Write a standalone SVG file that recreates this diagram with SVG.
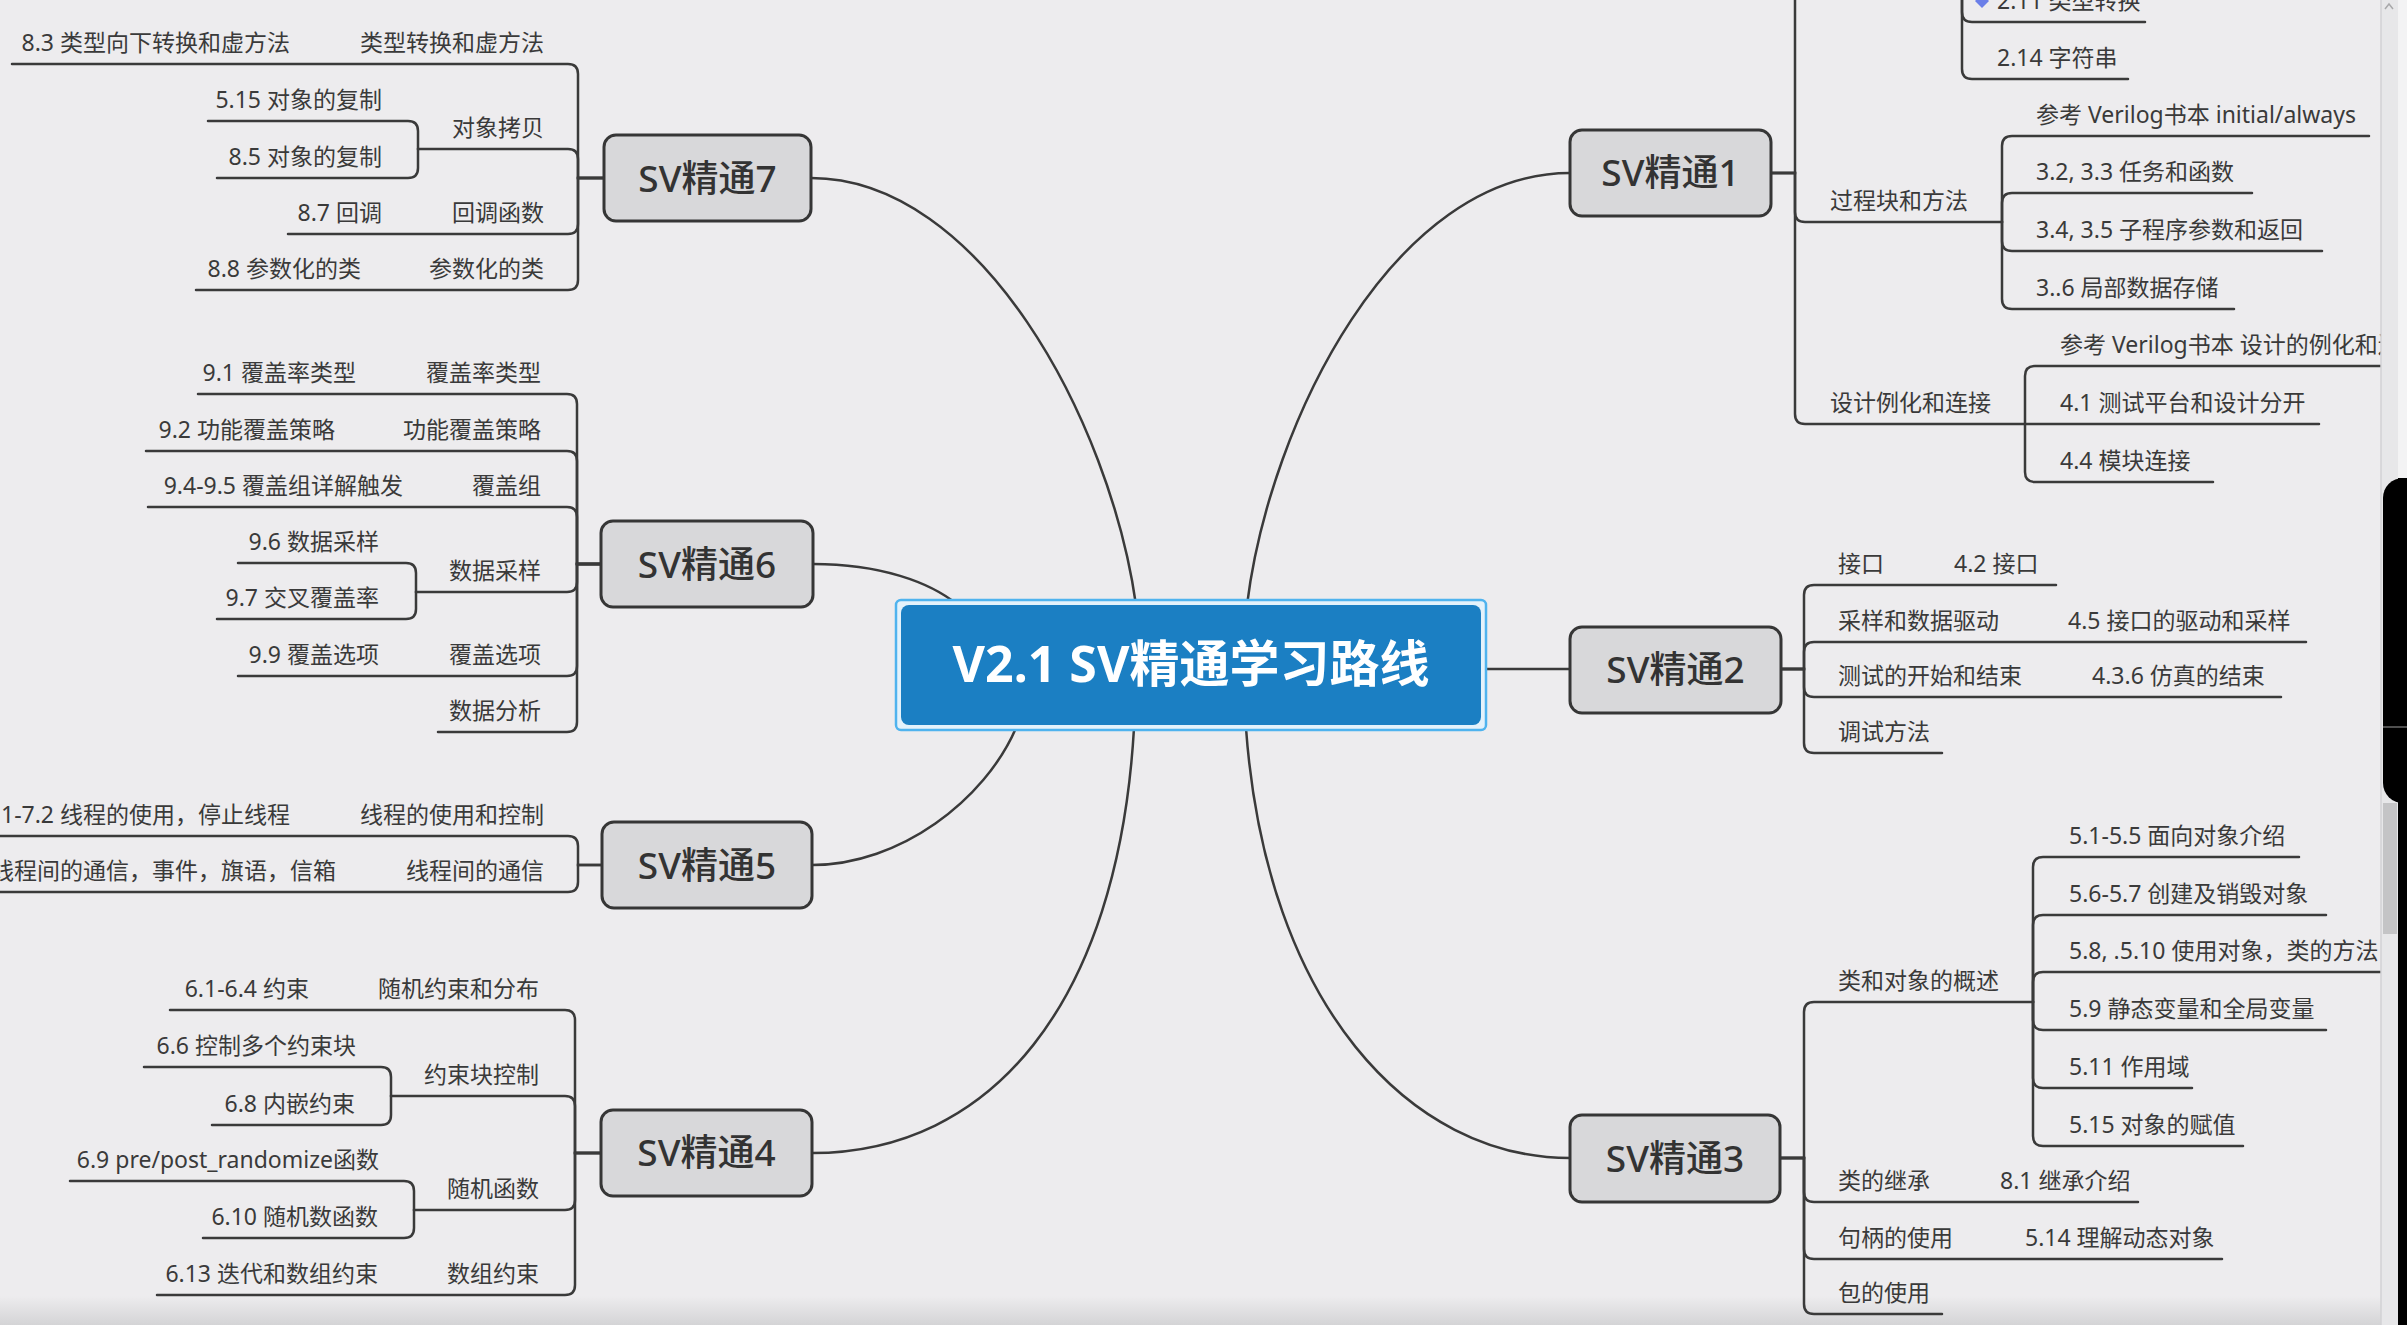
<svg xmlns="http://www.w3.org/2000/svg" width="2407" height="1325" viewBox="0 0 2407 1325">
<defs>
<linearGradient id="btm" x1="0" y1="0" x2="0" y2="1">
<stop offset="0" stop-color="#EDECEE"/>
<stop offset="1" stop-color="#D4D4D6"/>
</linearGradient>
<style>
.t{font-family:"Noto Sans","Noto Sans CJK SC",sans-serif;font-size:23px;fill:#3a3a3a}
.e{text-anchor:end}
.c{fill:none;stroke:#3a3a3a;stroke-width:2.5;stroke-linecap:round}
.mb{fill:#D8D8DA;stroke:#363636;stroke-width:3}
.mt{font-family:"Noto Sans","Noto Sans CJK SC",sans-serif;font-size:37px;font-weight:500;fill:#333;text-anchor:middle}
</style>
</defs>
<rect x="0" y="0" width="2407" height="1325" fill="#EDECEE"/>
<rect x="0" y="1296" width="2407" height="29" fill="url(#btm)"/>

<g id="connectors">
<!-- center to main nodes -->
<path class="c" d="M1136,605 C1110,420 980,178 811,178"/>
<path class="c" d="M1247,605 C1270,420 1395,173 1570,173"/>
<path class="c" d="M958,605 C930,582 880,564 813,564"/>
<path class="c" d="M1016,728 C985,800 900,865 812,865"/>
<path class="c" d="M1134,728 C1118,1005 990,1153 812,1153"/>
<path class="c" d="M1246,728 C1266,1005 1410,1158 1570,1158"/>
<path class="c" d="M1486,669 H1570"/>

<!-- SV7 -->
<path class="c" d="M604,178 H578 V74 Q578,64 568,64 H12"/>
<path class="c" d="M604,178 H578 V159 Q578,149 568,149 H418"/>
<path class="c" d="M418,149 V131 Q418,121 408,121 H208"/>
<path class="c" d="M418,149 V168 Q418,178 408,178 H217"/>
<path class="c" d="M604,178 H578 V224 Q578,234 568,234 H288"/>
<path class="c" d="M604,178 H578 V280 Q578,290 568,290 H196"/>

<!-- SV6 -->
<path class="c" d="M601,564 H577 V404 Q577,394 567,394 H198"/>
<path class="c" d="M601,564 H577 V461 Q577,451 567,451 H146"/>
<path class="c" d="M601,564 H577 V517 Q577,507 567,507 H148"/>
<path class="c" d="M601,564 H577 V582 Q577,592 567,592 H416"/>
<path class="c" d="M416,592 V573 Q416,563 406,563 H238"/>
<path class="c" d="M416,592 V609 Q416,619 406,619 H217"/>
<path class="c" d="M601,564 H577 V666 Q577,676 567,676 H238"/>
<path class="c" d="M601,564 H577 V722 Q577,732 567,732 H438"/>

<!-- SV5 -->
<path class="c" d="M602,865 H578 V846 Q578,836 568,836 H-5"/>
<path class="c" d="M602,865 H578 V882 Q578,892 568,892 H-5"/>

<!-- SV4 -->
<path class="c" d="M601,1153 H575 V1020 Q575,1010 565,1010 H170"/>
<path class="c" d="M601,1153 H575 V1106 Q575,1096 565,1096 H391"/>
<path class="c" d="M391,1096 V1077 Q391,1067 381,1067 H144"/>
<path class="c" d="M391,1096 V1115 Q391,1125 381,1125 H212"/>
<path class="c" d="M601,1153 H575 V1200 Q575,1210 565,1210 H414"/>
<path class="c" d="M414,1210 V1191 Q414,1181 404,1181 H70"/>
<path class="c" d="M414,1210 V1228 Q414,1238 404,1238 H203"/>
<path class="c" d="M601,1153 H575 V1285 Q575,1295 565,1295 H157"/>

<!-- SV1 -->
<path class="c" d="M1771,173 H1795 V-20"/>
<path class="c" d="M1962,-20 V12 Q1962,22 1972,22 H2145"/>
<path class="c" d="M1962,-20 V69 Q1962,79 1972,79 H2128"/>
<path class="c" d="M1771,173 H1795 V212 Q1795,222 1805,222 H2002"/>
<path class="c" d="M2002,222 V146 Q2002,136 2012,136 H2369"/>
<path class="c" d="M2002,222 V203 Q2002,193 2012,193 H2252"/>
<path class="c" d="M2002,222 V241 Q2002,251 2012,251 H2322"/>
<path class="c" d="M2002,222 V299 Q2002,309 2012,309 H2234"/>
<path class="c" d="M1771,173 H1795 V414 Q1795,424 1805,424 H2025"/>
<path class="c" d="M2025,424 V376 Q2025,366 2035,366 H2395"/>
<path class="c" d="M2025,424 H2319"/>
<path class="c" d="M2025,424 V472 Q2025,482 2035,482 H2213"/>

<!-- SV2 -->
<path class="c" d="M1781,669 H1804 V595 Q1804,585 1814,585 H2056"/>
<path class="c" d="M1781,669 H1804 V652 Q1804,642 1814,642 H2306"/>
<path class="c" d="M1781,669 H1804 V687 Q1804,697 1814,697 H2281"/>
<path class="c" d="M1781,669 H1804 V743 Q1804,753 1814,753 H1942"/>

<!-- SV3 -->
<path class="c" d="M1780,1158 H1804 V1012 Q1804,1002 1814,1002 H2033"/>
<path class="c" d="M2033,1002 V867 Q2033,857 2043,857 H2299"/>
<path class="c" d="M2033,1002 V925 Q2033,915 2043,915 H2326"/>
<path class="c" d="M2033,1002 V982 Q2033,972 2043,972 H2395"/>
<path class="c" d="M2033,1002 V1020 Q2033,1030 2043,1030 H2326"/>
<path class="c" d="M2033,1002 V1078 Q2033,1088 2043,1088 H2192"/>
<path class="c" d="M2033,1002 V1136 Q2033,1146 2043,1146 H2243"/>
<path class="c" d="M1780,1158 H1804 V1192 Q1804,1202 1814,1202 H2138"/>
<path class="c" d="M1780,1158 H1804 V1249 Q1804,1259 1814,1259 H2222"/>
<path class="c" d="M1780,1158 H1804 V1304 Q1804,1314 1814,1314 H1942"/>
</g>

<g id="center">
<rect x="896" y="600" width="590" height="130" rx="5" fill="#E4F2FB" stroke="#4FB3EE" stroke-width="2.5"/>
<rect x="901" y="605" width="580" height="120" rx="8" fill="#1B7FC3"/>
<text x="1191" y="682" text-anchor="middle" style="font-family:'Noto Sans','Noto Sans CJK SC',sans-serif;font-size:50px;font-weight:700;fill:#fff">V2.1 SV精通学习路线</text>
</g>

<g id="sv7">
<rect class="mb" x="604" y="135" width="207" height="86" rx="12"/>
<text class="mt" x="707.5" y="192">SV精通7</text>
<text class="t e" x="544" y="51">类型转换和虚方法</text>
<text class="t e" x="290" y="51">8.3 类型向下转换和虚方法</text>
<text class="t e" x="544" y="136">对象拷贝</text>
<text class="t e" x="382" y="108">5.15 对象的复制</text>
<text class="t e" x="382" y="165">8.5 对象的复制</text>
<text class="t e" x="544" y="221">回调函数</text>
<text class="t e" x="382" y="221">8.7 回调</text>
<text class="t e" x="544" y="277">参数化的类</text>
<text class="t e" x="361" y="277">8.8 参数化的类</text>
</g>

<g id="sv6">
<rect class="mb" x="601" y="521" width="212" height="86" rx="12"/>
<text class="mt" x="707" y="578">SV精通6</text>
<text class="t e" x="541" y="381">覆盖率类型</text>
<text class="t e" x="356" y="381">9.1 覆盖率类型</text>
<text class="t e" x="541" y="438">功能覆盖策略</text>
<text class="t e" x="335" y="438">9.2 功能覆盖策略</text>
<text class="t e" x="541" y="494">覆盖组</text>
<text class="t e" x="403" y="494">9.4-9.5 覆盖组详解触发</text>
<text class="t e" x="541" y="579">数据采样</text>
<text class="t e" x="379" y="550">9.6 数据采样</text>
<text class="t e" x="379" y="606">9.7 交叉覆盖率</text>
<text class="t e" x="541" y="663">覆盖选项</text>
<text class="t e" x="379" y="663">9.9 覆盖选项</text>
<text class="t e" x="541" y="719">数据分析</text>
</g>

<g id="sv5">
<rect class="mb" x="602" y="822" width="210" height="86" rx="12"/>
<text class="mt" x="707" y="879">SV精通5</text>
<text class="t e" x="544" y="823">线程的使用和控制</text>
<text class="t e" x="290" y="823">7.1-7.2 线程的使用，停止线程</text>
<text class="t e" x="544" y="879">线程间的通信</text>
<text class="t e" x="336" y="879">线程间的通信，事件，旗语，信箱</text>
</g>

<g id="sv4">
<rect class="mb" x="601" y="1110" width="211" height="86" rx="12"/>
<text class="mt" x="706.5" y="1166">SV精通4</text>
<text class="t e" x="539" y="997">随机约束和分布</text>
<text class="t e" x="309" y="997">6.1-6.4 约束</text>
<text class="t e" x="539" y="1083">约束块控制</text>
<text class="t e" x="356" y="1054">6.6 控制多个约束块</text>
<text class="t e" x="355" y="1112">6.8 内嵌约束</text>
<text class="t e" x="539" y="1197">随机函数</text>
<text class="t e" x="379" y="1168">6.9 pre/post_randomize函数</text>
<text class="t e" x="378" y="1225">6.10 随机数函数</text>
<text class="t e" x="539" y="1282">数组约束</text>
<text class="t e" x="378" y="1282">6.13 迭代和数组约束</text>
</g>

<g id="sv1">
<rect class="mb" x="1570" y="130" width="201" height="86" rx="12"/>
<text class="mt" x="1670.5" y="186">SV精通1</text>
<polygon points="1982,-6 1989,1 1982,8 1975,1" fill="#6B7FE8"/>
<text class="t" x="1997" y="9">2.11 类型转换</text>
<text class="t" x="1997" y="66">2.14 字符串</text>
<text class="t" x="1830" y="209">过程块和方法</text>
<text class="t" x="2036" y="123">参考 Verilog书本 initial/always</text>
<text class="t" x="2036" y="180">3.2, 3.3 任务和函数</text>
<text class="t" x="2036" y="238">3.4, 3.5 子程序参数和返回</text>
<text class="t" x="2036" y="296">3..6 局部数据存储</text>
<text class="t" x="1830" y="411">设计例化和连接</text>
<text class="t" x="2060" y="353">参考 Verilog书本 设计的例化和连接</text>
<text class="t" x="2060" y="411">4.1 测试平台和设计分开</text>
<text class="t" x="2060" y="469">4.4 模块连接</text>
</g>

<g id="sv2">
<rect class="mb" x="1570" y="627" width="211" height="86" rx="12"/>
<text class="mt" x="1675.5" y="683">SV精通2</text>
<text class="t" x="1838" y="572">接口</text>
<text class="t" x="1954" y="572">4.2 接口</text>
<text class="t" x="1838" y="629">采样和数据驱动</text>
<text class="t" x="2068" y="629">4.5 接口的驱动和采样</text>
<text class="t" x="1838" y="684">测试的开始和结束</text>
<text class="t" x="2092" y="684">4.3.6 仿真的结束</text>
<text class="t" x="1838" y="740">调试方法</text>
</g>

<g id="sv3">
<rect class="mb" x="1570" y="1115" width="210" height="87" rx="12"/>
<text class="mt" x="1675" y="1172">SV精通3</text>
<text class="t" x="1838" y="989">类和对象的概述</text>
<text class="t" x="2069" y="844">5.1-5.5 面向对象介绍</text>
<text class="t" x="2069" y="902">5.6-5.7 创建及销毁对象</text>
<text class="t" x="2069" y="959">5.8, .5.10 使用对象，类的方法</text>
<text class="t" x="2069" y="1017">5.9 静态变量和全局变量</text>
<text class="t" x="2069" y="1075">5.11 作用域</text>
<text class="t" x="2069" y="1133">5.15 对象的赋值</text>
<text class="t" x="1838" y="1189">类的继承</text>
<text class="t" x="2000" y="1189">8.1 继承介绍</text>
<text class="t" x="1838" y="1246">句柄的使用</text>
<text class="t" x="2025" y="1246">5.14 理解动态对象</text>
<text class="t" x="1838" y="1301">包的使用</text>
</g>

<g id="scrollbar">
<rect x="2381" y="0" width="17" height="1325" fill="#E7E7E9"/>
<line x1="2381" y1="0" x2="2381" y2="1325" stroke="#D2D2D4" stroke-width="1.5"/>
<rect x="2398" y="0" width="9" height="478" fill="#F3F3F4"/>
<polyline points="2385,9 2389,4 2393,9" fill="none" stroke="#A8A8AA" stroke-width="1.5"/>
<rect x="2383" y="478" width="50" height="325" rx="20" fill="#000"/>
<rect x="2398" y="478" width="9" height="847" fill="#000"/>
<line x1="2383" y1="727" x2="2407" y2="727" stroke="#6A6A6A" stroke-width="1.5"/>
<rect x="2383" y="803" width="14" height="131" fill="#C4C4C6"/>
</g>
</svg>
